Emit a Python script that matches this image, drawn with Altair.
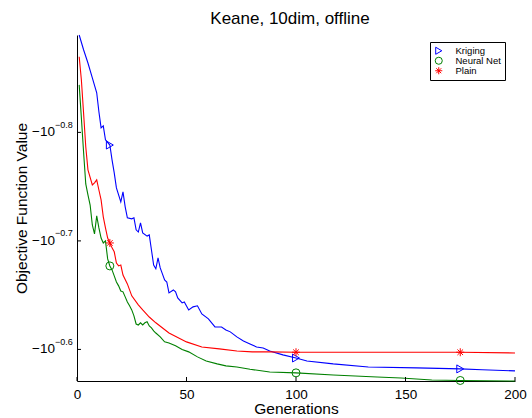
import altair as alt
import pandas as pd

# ---- data ----
gens_kriging = [1, 3, 5, 7, 9, 10, 11, 12, 13, 15, 16, 17, 18, 20, 21, 22, 23, 25, 26, 27,
                28, 29, 30, 32, 33, 34, 35, 36, 37, 38, 39, 40, 41, 42, 44, 45, 46, 48, 49, 51,
                53, 55, 57, 60, 63, 66, 68, 70, 73, 76, 79, 82, 85, 88, 94, 100, 105, 117, 133, 155,
                175, 185, 200]
vals_kriging = [-0.1289, -0.1330, -0.1368, -0.1412, -0.1457, -0.1517, -0.1570, -0.1563, -0.1610, -0.1628,
                -0.1680, -0.1727, -0.1783, -0.1837, -0.1798, -0.1856, -0.1900, -0.1904, -0.1900, -0.1949,
                -0.1958, -0.1920, -0.1962, -0.1975, -0.1970, -0.2034, -0.2100, -0.2117, -0.2068, -0.2113,
                -0.2140, -0.2168, -0.2177, -0.2228, -0.2214, -0.2223, -0.2252, -0.2276, -0.2271, -0.2310,
                -0.2295, -0.2290, -0.2330, -0.2354, -0.2395, -0.2395, -0.2410, -0.2420, -0.2446, -0.2467,
                -0.2483, -0.2499, -0.2504, -0.2520, -0.2541, -0.2558, -0.2574, -0.2590, -0.2607, -0.2612,
                -0.2618, -0.2623, -0.2629]

gens_neural = [1, 2, 3, 4, 5, 6, 7, 8, 9, 10, 11, 12, 13, 14, 15, 16, 17, 18, 19, 20,
               21, 22, 23, 24, 25, 26, 27, 28, 29, 30, 31, 32, 33, 34, 35, 36, 38, 40, 42, 45,
               48, 51, 55, 59, 64, 68, 73, 79, 88, 100, 117, 137, 148, 162, 175, 200]
vals_neural = [-0.1433, -0.1537, -0.1652, -0.1768, -0.1810, -0.1849, -0.1929, -0.1966, -0.1892, -0.1941,
               -0.1983, -0.2004, -0.1995, -0.2073, -0.2104, -0.2122, -0.2149, -0.2177, -0.2195, -0.2219,
               -0.2223, -0.2247, -0.2271, -0.2290, -0.2310, -0.2339, -0.2380, -0.2385, -0.2374, -0.2385,
               -0.2374, -0.2369, -0.2390, -0.2400, -0.2415, -0.2426, -0.2446, -0.2472, -0.2478, -0.2493,
               -0.2512, -0.2525, -0.2552, -0.2574, -0.2590, -0.2601, -0.2607, -0.2620, -0.2635, -0.2640,
               -0.2652, -0.2663, -0.2669, -0.2680, -0.2683, -0.2686]

gens_plain = [1, 2, 3, 4, 5, 7, 8, 9, 10, 11, 12, 13, 14, 15, 16, 17, 18, 19, 20, 21,
              23, 25, 28, 30, 33, 36, 42, 50, 57, 65, 73, 80, 88, 100, 130, 175, 200]
vals_plain = [-0.1350, -0.1418, -0.1521, -0.1634, -0.1716, -0.1772, -0.1764, -0.1753, -0.1791, -0.1829,
              -0.1896, -0.1941, -0.1983, -0.2004, -0.2025, -0.2042, -0.2091, -0.2104, -0.2100, -0.2145,
              -0.2186, -0.2242, -0.2285, -0.2310, -0.2345, -0.2374, -0.2426, -0.2472, -0.2499, -0.2509,
              -0.2520, -0.2525, -0.2525, -0.2527, -0.2527, -0.2527, -0.2531]

marker_gens = [15, 100, 175]
x_ticks = [0, 50, 100, 150, 200]
y_tick_exps = [-0.8, -0.7, -0.6]
y_tick_sups = ["\u22120.8", "\u22120.7", "\u22120.6"]
y_domain = [0.1289, 0.2686]  # magnitudes of the objective at top / bottom

series_names = ["Kriging", "Neural Net", "Plain"]
series_colors = ["#0000ff", "#008000", "#ff0000"]
star_path = "M0,-1L0,1M-1,0L1,0M-0.7,-0.7L0.7,0.7M-0.7,0.7L0.7,-0.7"
series_shapes = ["triangle-right", "circle", star_path]

# ---- tables ----
rows = []
for name, gs, vs in [("Kriging", gens_kriging, vals_kriging),
                     ("Neural Net", gens_neural, vals_neural),
                     ("Plain", gens_plain, vals_plain)]:
    for g, v in zip(gs, vs):
        rows.append({"series": name, "gen": g, "value": v})
df = pd.DataFrame(rows)
xt = pd.DataFrame({"gen": x_ticks})
yt = pd.DataFrame({"p": y_tick_exps, "sup": y_tick_sups})

W, H = 438, 346
FONT = "Liberation Sans"

xs = alt.Scale(domain=[0, 200], nice=False, zero=False)
ys = alt.Scale(type="log", domain=y_domain, reverse=True, nice=False, zero=False)
cs = alt.Scale(domain=series_names, range=series_colors)
ss = alt.Scale(domain=series_names, range=series_shapes)

x_axis = alt.Axis(values=x_ticks, title="Generations", labelFontSize=13.5,
                  labelPadding=6, labelFlush=False, titleFontSize=15.5, titlePadding=1)
y_axis = alt.Axis(labels=False, title="Objective Function Value",
                  titleFontSize=15.5, titlePadding=48)
X = alt.X("gen:Q", scale=xs, axis=x_axis, title="Generations")
Y = alt.Y("mag:Q", scale=ys, axis=y_axis, title="Objective Function Value")

leg = alt.Legend(orient="none", legendX=353, legendY=7,
                 strokeColor="black", fillColor="white",
                 padding=4, labelFontSize=9.5, symbolSize=50,
                 symbolStrokeWidth=1, labelOffset=12, rowPadding=-2,
                 clipHeight=9.5, labelFont=FONT)

base = alt.Chart(df).transform_calculate(mag="-datum.value")

lines = base.mark_line(strokeWidth=1.1).encode(
    x=X, y=Y,
    color=alt.Color("series:N", scale=cs, title=None, legend=leg),
)

points = base.transform_filter(
    alt.FieldOneOfPredicate(field="gen", oneOf=marker_gens)
).mark_point(filled=False, size=64, strokeWidth=1, opacity=1).encode(
    x=X, y=Y,
    color=alt.Color("series:N", scale=cs, title=None, legend=leg),
    shape=alt.Shape("series:N", scale=ss, title=None, legend=leg),
)

xticks = alt.Chart(xt).mark_rule(color="black", strokeWidth=1).encode(
    x=X,
    y=alt.value(H),
    y2=alt.value(H - 4),
)

ybase = alt.Chart(yt).transform_calculate(mag="pow(10, datum.p)")
yticks = ybase.mark_rule(color="black", strokeWidth=1).encode(
    y=Y,
    x=alt.value(0),
    x2=alt.value(4),
)
ylab_main = ybase.mark_text(align="right", baseline="middle", fontSize=13.5,
                            font=FONT, color="black").encode(
    y=Y,
    x=alt.value(-22),
    text=alt.value("\u221210"),
)
ylab_sup = ybase.mark_text(align="left", baseline="alphabetic", fontSize=9,
                           font=FONT, color="black", dy=-4.5).encode(
    y=Y,
    x=alt.value(-22),
    text="sup:N",
)

chart = alt.layer(lines, points, xticks, yticks, ylab_main, ylab_sup).properties(
    width=W, height=H,
    title=alt.TitleParams("Keane, 10dim, offline", fontSize=17, fontWeight="normal",
                          anchor="middle", offset=11, baseline="alphabetic", dx=-6, dy=19,
                          frame="group", font=FONT, color="black"),
    padding={"left": 77, "top": 35, "right": 17, "bottom": 37},
    autosize=alt.AutoSizeParams(type="none"),
).configure_view(stroke=None).configure_axis(
    domainColor="black", domainWidth=1, grid=False, ticks=False,
    labelFont=FONT, titleFont=FONT, labelColor="black", titleColor="black",
    titleFontWeight="normal",
).configure_legend(labelColor="black")

chart.save("out.html", embed_options={"renderer": "svg", "actions": False})
